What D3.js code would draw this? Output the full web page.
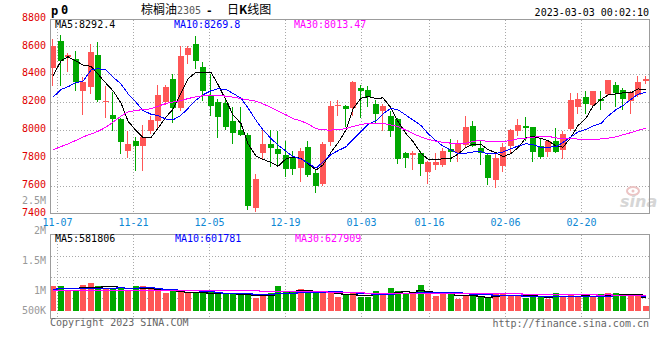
<!DOCTYPE html>
<html><head><meta charset="utf-8">
<script src="https://cdn.jsdelivr.net/npm/d3@7"></script>
<style>
html,body{margin:0;padding:0;background:#fff;}
svg{display:block;}
text{font-family:"DejaVu Sans Mono",monospace;font-size:10px;}
</style></head><body>
<svg id="chart" width="660" height="360"></svg>
<script>
const dates = ["11-04","11-07","11-08","11-09","11-10","11-11","11-14","11-15","11-16","11-17","11-18","11-21","11-22","11-23","11-24","11-25","11-28","11-29","11-30",
"12-01","12-02","12-05","12-06","12-07","12-08","12-09","12-12","12-13","12-14","12-15","12-16","12-19","12-20","12-21","12-22","12-23","12-26","12-27","12-28","12-29","12-30",
"01-03","01-04","01-05","01-06","01-09","01-10","01-11","01-12","01-13","01-16","01-17","01-18","01-19","01-20","01-30","01-31",
"02-01","02-02","02-03","02-06","02-07","02-08","02-09","02-10","02-13","02-14","02-15","02-16","02-17","02-20","02-21","02-22","02-23","02-24","02-27","02-28",
"03-01","03-02","03-03"];
const opens = [8443,8638,8521,8509,8276,8305,8538,8200,8109,8078, 7848,7917,7883,7990,8062,8198,8364,8157,8538,8616, 8455,8246,8204,8190,8061,7996,7961,7441,7834,7901, 7861,7818,7799,7724,7876,7688,7612,7912,8169,8174, 8157,8300,8288,8188,8138,8102,8078,7831,7819,7831, 7698,7745,7745,7864,7836,7895,8031,7867,7819,7638, 7740,7883,7990,8026,8019,7888,7841,7919,7855,8005, 8162,8233,8181,8225,8259,8320,8288,8205,8250,8350];
const highs = [8650,8681,8550,8566,8383,8614,8628,8312,8269,8086, 7990,7950,8038,8102,8324,8324,8402,8602,8602,8674, 8490,8400,8223,8223,8163,8163,7975,7687,8001,8001, 7989,7920,7849,7871,7919,7712,7912,8205,8217,8181, 8350,8324,8317,8217,8188,8138,8086,7843,7848,7848, 7776,7831,7870,7938,7931,8102,8062,7919,7824,7824, 7907,8007,8081,8093,8021,7943,7926,8014,7990,8262, 8264,8283,8276,8280,8359,8347,8300,8276,8389,8389];
const lows = [8324,8319,8426,8288,8117,8264,8205,8093,8002,7831, 7805,7712,7712,7979,8007,8188,8055,8145,8478,8443, 8217,8104,7949,8009,7906,7961,7430,7418,7794,7739, 7739,7668,7682,7636,7669,7555,7607,7895,8109,8026, 8109,8093,8169,8055,8002,7955,7764,7733,7717,7676, 7622,7717,7740,7776,7776,7883,7883,7752,7610,7591, 7705,7840,7967,7931,7776,7800,7812,7841,7800,8003, 8121,8121,8164,8150,8253,8169,8151,8120,8241,8334];
const closes = [8602,8497,8538,8347,8347,8557,8217,8207,8078,7912, 7902,7883,7950,8074,8252,8307,8157,8531,8585,8497, 8280,8175,8091,8020,7977,7965,7454,7646,7901,7870, 7825,7716,7716,7852,7674,7600,7902,8174,8181,8150, 8347,8283,8233,8117,8169,7990,7793,7800,7831,7752, 7772,7769,7848,7841,7900,8019,7883,7836,7652,7795, 7876,7998,8038,8012,7841,7805,7919,7841,7974,8215, 8221,8188,8276,8205,8359,8262,8220,8270,8345,8366];
const ma5 = [8390,8495,8525,8495,8466,8457,8401,8335,8281,8194, 8063,7996,7945,7944,8012,8093,8148,8264,8366,8415, 8410,8414,8326,8213,8109,8046,7901,7812,7789,7767, 7739,7792,7806,7796,7757,7712,7749,7840,7906,8001, 8151,8227,8239,8226,8230,8158,8060,7974,7917,7833, 7790,7785,7794,7796,7826,7875,7898,7896,7858,7837, 7808,7831,7872,7944,7953,7939,7923,7884,7876,7947, 8031,8084,8171,8218,8251,8259,8266,8266,8294,8292];
const ma10 = [8235,8290,8310,8340,8350,8430,8440,8430,8380,8330, 8260,8199,8140,8113,8103,8078,8072,8105,8155,8214, 8252,8281,8295,8290,8262,8228,8158,8069,8001,7938, 7892,7847,7809,7792,7762,7725,7770,7823,7851,7879, 7931,7988,8040,8066,8116,8155,8144,8106,8071,8032, 7974,7923,7884,7857,7830,7833,7842,7845,7827,7832, 7842,7865,7884,7901,7895,7874,7877,7878,7910,7950, 7985,8004,8028,8047,8099,8145,8175,8219,8256,8270];
const ma30 = [7858,7880,7900,7925,7950,7970,7990,8020,8055,8100, 8128,8140,8146,8152,8170,8190,8200,8210,8225,8238, 8245,8248,8246,8243,8235,8225,8216,8206,8187,8161, 8135,8109,8081,8065,8042,8010,8000,7999,8002,8010, 8025,8038,8048,8049,8047,8036,8024,7999,7974,7949, 7933,7919,7911,7905,7902,7904,7918,7925,7917,7914, 7916,7925,7936,7941,7947,7954,7954,7943,7936,7938, 7934,7930,7932,7935,7941,7950,7965,7981,7998,8013];
// volume in thousands of lots
const volumesK = [1000,1000,840,840,1040,1132,1000,908,908,908, 812,1000,1000,868,812,732,812,772,708,732, 708,772,680,680,680,680,708,540,600,732, 1012,800,800,880,800,800,732,732,572,640, 760,572,572,800,708,932,800,708,748,1040, 732,600,748,748,480,600,600,572,572,680, 732,640,640,532,600,572,480,732,600,680, 572,572,572,680,732,732,680,680,612,212];
const vma5K = [900,920,930,940,944,970,970,984,998,971, 907,907,926,918,898,882,845,799,767,751, 746,738,720,714,704,698,686,658,642,652, 718,737,789,845,858,816,802,789,727,695, 687,655,623,669,682,717,762,790,779,846, 806,766,774,774,662,635,635,600,565,605, 631,639,653,645,629,597,565,583,597,613, 613,631,599,615,626,658,679,701,687,582];
const vma10K = [900,905,910,915,920,925,930,935,940,950, 939,939,950,955,935,895,876,862,842,825, 814,792,760,741,728,722,712,689,678,678, 708,711,723,743,755,767,770,789,786,777, 752,729,706,698,689,702,709,706,724,764, 761,764,782,776,754,720,700,687,669,633, 633,637,626,605,617,614,602,618,621,621, 605,598,591,606,619,635,655,650,651,602];
const vma30K = [850,850,850,850,850,850,850,850,850,850, 848,846,845,844,843,842,841,840,840,840, 838,836,834,832,830,828,826,824,822,820, 821,814,813,814,806,795,786,780,769,760, 758,744,730,727,724,731,730,728,729,740, 740,735,737,739,733,730,726,727,726,725, 715,710,705,693,686,679,670,670,671,673, 666,666,666,662,663,657,653,652,647,628];
const priceTicks = [8800,8600,8400,8200,8000,7800,7600,7400];
const dateTicks = ["11-07","11-21","12-05","12-19","01-03","01-16","02-06","02-20"];
const volTickValuesK = [2500,2000,1500,1000,500];
const volTickLabels = ["2.5M","2M","1.5M","1M","500K"];
const maLabels = ["MA5:8292.4","MA10:8269.8","MA30:8013.47"];
const volMaLabels = ["MA5:581806","MA10:601781","MA30:627909"];

const UP="#ff5656", DOWN="#00a800", GRID="#a8a8a8", BORDER="#9c9c9c";
const MAC=["#000000","#0000ff","#ff00ff"];
const svg=d3.select("#chart");
const X0=50.5, X1=649.5, PT=19.5, PB=213.5, VT=234.5, VB=318.5, VBASE=311;

const xBand=d3.scaleBand().domain(dates).range([49.25,649.25]);
const xGrid=d3.scalePoint().domain(dates).range([49.7,650.2]);
const yP=d3.scaleLinear().domain([7400,8800]).range([213.5,18.5]);
const yV=d3.scaleLinear().domain([0,3080]).range([VBASE,234.3]);
const yVlab=d3.scaleLinear().domain([500,2000]).range([320.7,230.7]);
const idx=d3.range(dates.length);
const cx=i=>Math.round(xBand(dates[i])+xBand.bandwidth()/2);
const bw=Math.round(xBand.bandwidth()*0.8);
const col=i=>closes[i]>=opens[i]?UP:DOWN;

// grids
const grid=svg.append("g").attr("shape-rendering","crispEdges").attr("stroke",GRID).attr("stroke-dasharray","1,2");
grid.selectAll(".hp").data(priceTicks.filter(v=>v>7400&&v<8800)).join("line")
  .attr("x1",X0).attr("x2",X1).attr("y1",v=>Math.round(yP(v))+0.5).attr("y2",v=>Math.round(yP(v))+0.5);
[0.25,0.5,0.75].forEach(f=>{const y=Math.round(VT+(VB-VT)*f)+0.5;
  grid.append("line").attr("x1",X0).attr("x2",X1).attr("y1",y).attr("y2",y);});
grid.selectAll(".vp").data(dateTicks).join("line")
  .attr("x1",d=>Math.floor(xGrid(d))+0.5).attr("x2",d=>Math.floor(xGrid(d))+0.5).attr("y1",PT).attr("y2",PB);
grid.selectAll(".vv").data(dateTicks).join("line")
  .attr("x1",d=>Math.floor(xGrid(d))+0.5).attr("x2",d=>Math.floor(xGrid(d))+0.5).attr("y1",VT).attr("y2",VB);

// watermark
const wm=svg.append("g");
wm.append("ellipse").attr("cx",633).attr("cy",191).attr("rx",6).attr("ry",4).attr("fill","none").attr("stroke","#ecc4c4").attr("stroke-width",2);
wm.append("circle").attr("cx",633).attr("cy",191).attr("r",1.5).attr("fill","#ecc4c4");
wm.append("text").attr("x",620).attr("y",207).attr("fill","#d6d6d6").style("font-family","DejaVu Sans").style("font-size","16px").style("font-style","italic").style("font-weight","bold").text("sina");

// candles
const cg=svg.append("g").attr("shape-rendering","crispEdges");
cg.selectAll(".wick").data(idx).join("line")
  .attr("x1",i=>cx(i)-0.5).attr("x2",i=>cx(i)-0.5)
  .attr("y1",i=>Math.round(yP(highs[i]))).attr("y2",i=>Math.round(yP(lows[i]))+1)
  .attr("stroke",col);
cg.selectAll(".body").data(idx).join("rect")
  .attr("x",i=>cx(i)-bw/2).attr("width",bw)
  .attr("y",i=>Math.round(yP(Math.max(opens[i],closes[i]))))
  .attr("height",i=>Math.max(1,Math.round(yP(Math.min(opens[i],closes[i])))-Math.round(yP(Math.max(opens[i],closes[i])))))
  .attr("fill",col);

// volume bars
cg.selectAll(".vol").data(idx).join("rect")
  .attr("x",i=>cx(i)-bw/2).attr("width",bw)
  .attr("y",i=>Math.round(yV(volumesK[i]))).attr("height",i=>VBASE-Math.round(yV(volumesK[i])))
  .attr("fill",col);

// MA lines
const lg=svg.append("g").attr("fill","none").attr("stroke-width",1).attr("shape-rendering","crispEdges");
[ma5,ma10,ma30].forEach((arr,k)=>{
  lg.append("path").attr("stroke",MAC[k]).attr("d",d3.line().x((d,i)=>cx(i)).y(d=>yP(d))(arr));
});
[vma5K,vma10K,vma30K].forEach((arr,k)=>{
  lg.append("path").attr("stroke",MAC[k]).attr("stroke-width",1.3)
    .attr("d",d3.line().curve(d3.curveStep).x((d,i)=>cx(i)).y(d=>Math.round(yV(d))+0.5)(arr));
});

// borders
const bg=svg.append("g").attr("fill","none").attr("stroke",BORDER).attr("shape-rendering","crispEdges");
bg.append("rect").attr("x",X0).attr("y",PT).attr("width",X1-X0).attr("height",PB-PT);
bg.append("rect").attr("x",X0).attr("y",VT).attr("width",X1-X0).attr("height",VB-VT);

// axis labels
const tg=svg.append("g");
tg.selectAll(".pl").data(priceTicks).join("text")
  .attr("x",46).attr("y",v=>yP(v)-1.3).attr("dy","0.35em").attr("text-anchor","end").attr("fill","#e00000").text(v=>v);
tg.selectAll(".vl").data(volTickValuesK).join("text")
  .attr("x",46).attr("y",v=>Math.min(yVlab(v),310.7)).attr("dy","0.35em").attr("text-anchor","end").attr("fill","#999").text((v,i)=>volTickLabels[i]);
tg.selectAll(".dl").data(dateTicks).join("text")
  .attr("x",d=>Math.floor(xGrid(d))+0.5).attr("y",225.5).attr("text-anchor","middle").attr("fill","#0d87d4").text(d=>d);

// MA legends
const maX=[55,174,294];
maLabels.forEach((t,k)=>tg.append("text").attr("x",maX[k]).attr("y",28).attr("fill",MAC[k]).text(t));
volMaLabels.forEach((t,k)=>tg.append("text").attr("x",maX[k]+ (k?1:0)).attr("y",242).attr("fill",MAC[k]).text(t));

// header
tg.append("text").attr("x",51).attr("y",15).style("font-size","12px").style("font-weight","bold").text("p");
tg.append("text").attr("x",61).attr("y",14).style("font-size","12px").style("font-weight","bold").text("0");
const cjk='"Noto Sans CJK SC","Noto Sans CJK JP",sans-serif';
tg.append("text").attr("x",141).attr("y",14).style("font-family",cjk).style("font-size","12px").attr("fill","#000").text("棕榈油");
tg.append("text").attr("x",177).attr("y",14).attr("fill","#555").text("2305");
tg.append("text").attr("x",206).attr("y",14).style("font-size","11px").style("font-weight","bold").text("-");
const tt=tg.append("text").attr("x",227).attr("y",14).style("font-family",cjk).style("font-size","12px").attr("fill","#000");
tt.append("tspan").text("日");
tt.append("tspan").style("font-weight","bold").text("K");
tt.append("tspan").text("线图");
tg.append("text").attr("x",649).attr("y",16).attr("text-anchor","end").attr("fill","#000").text("2023-03-03 00:02:10");

// footer
tg.append("text").attr("x",50).attr("y",326).attr("fill","#666").text("Copyright 2023 SINA.COM");
tg.append("text").attr("x",649).attr("y",327).attr("text-anchor","end").attr("fill","#666").text("http://finance.sina.com.cn");
</script>
</body></html>
